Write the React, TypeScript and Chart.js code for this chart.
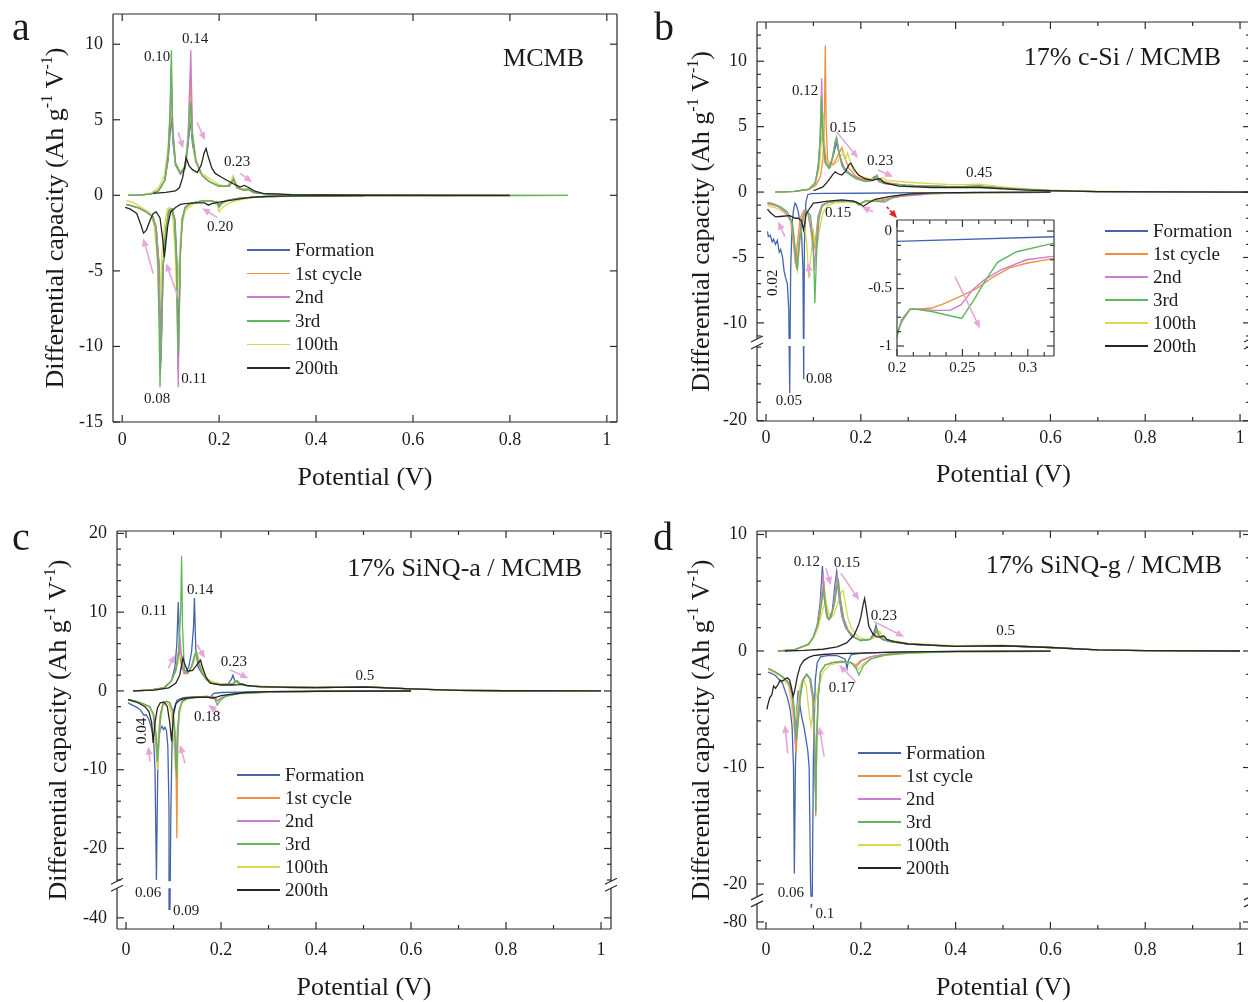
import React, { useEffect, useRef } from 'react';
import { Chart, registerables } from 'chart.js';

Chart.register(...registerables);

const SERIF = "'Liberation Serif', 'Times New Roman', Times, serif";
const TEXT = '#1b1b1b';
const AXIS = '#2b2b2b';
const ARROW = '#e7a6d5';

type Pt = [number, number] | null;
type Brk = { B: number; k: number } | null;

// ---------------- series meta ----------------
const SERIES_NAMES = ['Formation', '1st cycle', '2nd', '3rd', '100th', '200th'];
const SERIES_COLORS = ['#4664ae', '#f0903e', '#c97fcb', '#5cb85a', '#dcd64c', '#262626'];
const SERIES_ORDER = [5, 4, 2, 1, 3, 0];

const X_MIN = -0.019;
const X_MAX = 1.021;
const X_TICKS = [0, 0.2, 0.4, 0.6, 0.8, 1];
const X_MINOR = [0.1, 0.3, 0.5, 0.7, 0.9];

// ---------------- panel a : MCMB ----------------
const A_FORMATION: Pt[] = [
  [0.8, -0.01], [0.5, -0.02], [0.35, -0.05], [0.28, -0.1], [0.24, -0.2], [0.215, -0.35], [0.205, -0.5], [0.2, -0.62], [0.195, -0.45], [0.18, -0.35], [0.16, -0.4], [0.14, -0.55], [0.13, -0.8], [0.124, -1.5], [0.12, -3.5], [0.116, -10], [0.113, -4.5], [0.109, -1.6], [0.103, -0.9], [0.097, -1.0], [0.091, -2.2], [0.085, -4.5], [0.08, -11], [0.076, -4.5], [0.07, -2.1], [0.063, -1.4], [0.05, -1.1], [0.035, -0.85], [0.02, -0.7], [0.008, -0.6],
  null,
  [0.012, 0], [0.04, 0.03], [0.06, 0.1], [0.075, 0.3], [0.088, 1.0], [0.095, 2.4], [0.099, 4.2], [0.102, 5.2], [0.105, 3.4], [0.11, 2.0], [0.12, 1.4], [0.13, 1.8], [0.136, 3.4], [0.141, 5.0], [0.145, 3.4], [0.152, 2.2], [0.165, 1.3], [0.18, 0.9], [0.2, 0.6], [0.22, 0.6], [0.23, 1.0], [0.237, 0.5], [0.25, 0.35], [0.26, 0.4], [0.27, 0.2], [0.3, 0.08], [0.35, 0.03], [0.5, 0.01], [0.8, 0],
];
const A_1ST: Pt[] = [
  [0.8, -0.01], [0.5, -0.02], [0.35, -0.05], [0.28, -0.1], [0.24, -0.2], [0.215, -0.35], [0.205, -0.55], [0.2, -0.7], [0.195, -0.45], [0.18, -0.35], [0.16, -0.4], [0.14, -0.55], [0.13, -0.8], [0.124, -1.5], [0.12, -3.8], [0.1155, -11.5], [0.112, -4.5], [0.108, -1.6], [0.102, -0.9], [0.096, -1.0], [0.09, -2.2], [0.084, -4.8], [0.0795, -11], [0.0755, -4.5], [0.07, -2.1], [0.063, -1.4], [0.05, -1.1], [0.035, -0.85], [0.02, -0.7], [0.008, -0.6],
  null,
  [0.012, 0], [0.04, 0.03], [0.06, 0.1], [0.075, 0.3], [0.088, 1.0], [0.095, 2.6], [0.099, 5], [0.1015, 7.5], [0.105, 4], [0.11, 2.1], [0.12, 1.5], [0.13, 1.9], [0.136, 3.8], [0.141, 7.8], [0.145, 4], [0.152, 2.3], [0.165, 1.3], [0.18, 0.9], [0.2, 0.6], [0.22, 0.6], [0.23, 1.0], [0.237, 0.5], [0.25, 0.35], [0.26, 0.4], [0.27, 0.2], [0.3, 0.08], [0.35, 0.03], [0.5, 0.01], [0.8, 0],
];
const A_2ND: Pt[] = [
  [0.8, -0.01], [0.5, -0.02], [0.35, -0.05], [0.28, -0.1], [0.24, -0.2], [0.215, -0.35], [0.205, -0.55], [0.2, -0.75], [0.195, -0.45], [0.18, -0.35], [0.16, -0.4], [0.14, -0.55], [0.13, -0.8], [0.124, -1.6], [0.12, -4], [0.1155, -12.7], [0.112, -4.5], [0.108, -1.6], [0.102, -0.9], [0.096, -1.0], [0.09, -2.3], [0.084, -5], [0.0795, -11.5], [0.0755, -4.5], [0.07, -2.1], [0.063, -1.4], [0.05, -1.1], [0.035, -0.85], [0.02, -0.7], [0.008, -0.6],
  null,
  [0.012, 0], [0.04, 0.03], [0.06, 0.1], [0.075, 0.3], [0.088, 1.0], [0.095, 2.7], [0.099, 5.5], [0.101, 8.5], [0.104, 4.2], [0.11, 2.1], [0.12, 1.5], [0.13, 1.9], [0.136, 4], [0.1415, 9.6], [0.145, 4.2], [0.152, 2.3], [0.165, 1.3], [0.18, 0.9], [0.2, 0.6], [0.22, 0.6], [0.23, 1.1], [0.237, 0.5], [0.25, 0.35], [0.26, 0.4], [0.27, 0.2], [0.3, 0.08], [0.35, 0.03], [0.5, 0.01], [0.8, 0],
];
const A_3RD: Pt[] = [
  [0.92, 0], [0.8, -0.01], [0.5, -0.02], [0.35, -0.05], [0.28, -0.1], [0.24, -0.2], [0.215, -0.35], [0.205, -0.55], [0.2, -0.8], [0.195, -0.45], [0.18, -0.35], [0.16, -0.4], [0.14, -0.55], [0.13, -0.8], [0.124, -1.6], [0.12, -3.8], [0.1155, -10.5], [0.112, -4.5], [0.108, -1.6], [0.102, -0.9], [0.096, -1.0], [0.09, -2.3], [0.083, -5.2], [0.078, -12.7], [0.074, -4.8], [0.069, -2.1], [0.062, -1.4], [0.05, -1.1], [0.035, -0.85], [0.02, -0.7], [0.008, -0.6],
  null,
  [0.012, 0], [0.04, 0.03], [0.06, 0.1], [0.075, 0.3], [0.088, 1.0], [0.095, 2.8], [0.099, 6], [0.1015, 9.6], [0.104, 4.5], [0.11, 2.1], [0.12, 1.5], [0.13, 1.9], [0.136, 3.5], [0.1415, 6.2], [0.145, 3.8], [0.152, 2.3], [0.165, 1.3], [0.18, 0.9], [0.2, 0.6], [0.22, 0.6], [0.23, 1.1], [0.237, 0.5], [0.25, 0.35], [0.26, 0.4], [0.27, 0.2], [0.3, 0.08], [0.35, 0.03], [0.5, 0.01], [0.92, 0],
];
const A_100TH: Pt[] = [
  [0.92, 0], [0.8, -0.01], [0.5, -0.03], [0.35, -0.06], [0.28, -0.12], [0.25, -0.25], [0.23, -0.4], [0.215, -0.6], [0.205, -0.85], [0.2, -1.1], [0.196, -0.6], [0.185, -0.4], [0.165, -0.4], [0.145, -0.6], [0.13, -1.0], [0.122, -2.2], [0.117, -4.5], [0.113, -7.5], [0.109, -3.5], [0.104, -1.4], [0.098, -0.8], [0.093, -0.9], [0.088, -1.8], [0.082, -3.8], [0.076, -8], [0.072, -4], [0.066, -2], [0.058, -1.2], [0.045, -0.9], [0.03, -0.6], [0.016, -0.4], [0.008, -0.35],
  null,
  [0.016, 0], [0.04, 0.05], [0.06, 0.15], [0.075, 0.5], [0.087, 1.3], [0.094, 3], [0.099, 5.2], [0.1015, 6], [0.105, 4], [0.11, 2.2], [0.118, 1.5], [0.128, 1.8], [0.134, 3.2], [0.14, 5.5], [0.144, 4.2], [0.15, 2.4], [0.16, 1.5], [0.172, 1.3], [0.18, 1.1], [0.2, 0.7], [0.215, 0.6], [0.224, 0.9], [0.229, 1.3], [0.234, 0.8], [0.245, 0.45], [0.26, 0.45], [0.275, 0.2], [0.3, 0.08], [0.4, 0.02], [0.6, 0.01], [0.92, 0],
];
const A_200TH: Pt[] = [
  [0.5, -0.01], [0.35, -0.03], [0.3, -0.06], [0.26, -0.15], [0.23, -0.3], [0.2, -0.45], [0.185, -0.55], [0.178, -0.65], [0.17, -0.5], [0.15, -0.5], [0.13, -0.55], [0.12, -0.6], [0.11, -0.8], [0.1, -1.1], [0.094, -2], [0.089, -3.5], [0.087, -4.1], [0.084, -3], [0.078, -1.5], [0.07, -1.1], [0.064, -1.2], [0.058, -1.6], [0.05, -2.3], [0.044, -2.5], [0.039, -2], [0.03, -1.2], [0.016, -0.9], [0.006, -0.8],
  null,
  [0.064, 0.13], [0.09, 0.2], [0.11, 0.3], [0.118, 0.5], [0.125, 1.2], [0.132, 2.5], [0.138, 1.95], [0.145, 1.7], [0.155, 1.5], [0.163, 2.0], [0.169, 2.8], [0.173, 3.1], [0.178, 2.5], [0.185, 1.8], [0.192, 1.45], [0.205, 1.2], [0.216, 1.0], [0.23, 0.75], [0.243, 0.55], [0.252, 0.66], [0.262, 0.5], [0.272, 0.3], [0.29, 0.13], [0.35, 0.05], [0.5, 0.01], [0.8, 0],
];

// ---------------- panel b : 17% c-Si / MCMB ----------------
const B_FORMATION: Pt[] = [
  [0.6, -0.02], [0.4, -0.04], [0.32, -0.05], [0.2, -0.09], [0.12, -0.1], [0.095, -0.12], [0.088, -0.2], [0.084, -0.8], [0.081, -4], [0.0795, -15.5], [0.078, -6], [0.075, -3.2], [0.072, -2.4], [0.068, -1.5], [0.064, -1.0], [0.061, -0.85], [0.058, -1.4], [0.055, -2.4], [0.052, -6], [0.05, -17], [0.048, -9], [0.045, -7], [0.041, -6.5], [0.038, -6.0], [0.035, -5.0], [0.031, -4.4], [0.028, -4.6], [0.024, -3.7], [0.02, -4.0], [0.016, -3.6], [0.013, -3.8], [0.009, -3.3], [0.005, -3.4], [0.003, -3.0],
  null,
  [0.02, 0], [0.06, 0.05], [0.09, 0.2], [0.105, 0.8], [0.112, 2.5], [0.116, 5], [0.118, 7], [0.121, 4], [0.127, 2.2], [0.135, 1.9], [0.142, 2.8], [0.149, 3.8], [0.155, 2.8], [0.165, 1.8], [0.18, 1.3], [0.2, 1.0], [0.22, 0.9], [0.23, 1.2], [0.236, 0.9], [0.25, 0.7], [0.3, 0.5], [0.4, 0.4], [0.45, 0.45], [0.5, 0.3], [0.6, 0.1], [0.7, 0.03], [0.9, 0.01], [1.02, 0],
];
const B_1ST: Pt[] = [
  [0.6, -0.02], [0.45, -0.05], [0.4, -0.08], [0.35, -0.14], [0.319, -0.24], [0.299, -0.28], [0.286, -0.32], [0.2735, -0.4], [0.261, -0.5], [0.248, -0.57], [0.235, -0.635], [0.2265, -0.67], [0.215, -0.68], [0.21, -0.68], [0.2035, -0.79], [0.2, -0.89], [0.196, -0.95], [0.19, -0.75], [0.175, -0.65], [0.15, -0.7], [0.13, -0.8], [0.118, -1.0], [0.11, -1.8], [0.105, -3.5], [0.1, -4.5], [0.095, -3], [0.088, -1.6], [0.08, -1.4], [0.072, -2], [0.066, -4], [0.062, -5.5], [0.058, -4], [0.052, -2.2], [0.04, -1.5], [0.025, -1.1], [0.01, -0.95], [0.003, -0.9],
  null,
  [0.02, 0], [0.06, 0.05], [0.09, 0.2], [0.105, 0.5], [0.115, 1.2], [0.12, 2.5], [0.123, 5], [0.125, 11.2], [0.127, 5], [0.13, 2.5], [0.135, 2.0], [0.145, 2.3], [0.153, 2.9], [0.16, 3.4], [0.166, 2.6], [0.175, 1.8], [0.19, 1.2], [0.21, 0.9], [0.226, 0.95], [0.236, 1.1], [0.245, 0.85], [0.26, 0.7], [0.3, 0.5], [0.4, 0.4], [0.45, 0.45], [0.5, 0.3], [0.6, 0.1], [0.7, 0.03], [0.9, 0.01], [1.02, 0],
];
const B_2ND: Pt[] = [
  [0.6, -0.02], [0.45, -0.05], [0.4, -0.07], [0.35, -0.12], [0.319, -0.22], [0.299, -0.25], [0.279, -0.34], [0.266, -0.43], [0.258, -0.51], [0.249, -0.64], [0.2405, -0.69], [0.23, -0.69], [0.215, -0.68], [0.21, -0.68], [0.2035, -0.79], [0.2, -0.89], [0.196, -0.95], [0.19, -0.75], [0.175, -0.65], [0.15, -0.7], [0.13, -0.8], [0.118, -1.0], [0.11, -1.9], [0.106, -4], [0.102, -6], [0.098, -3.5], [0.09, -1.7], [0.082, -1.4], [0.074, -2.2], [0.068, -4.5], [0.064, -5.8], [0.06, -4], [0.054, -2.3], [0.04, -1.5], [0.025, -1.1], [0.01, -0.9], [0.003, -0.85],
  null,
  [0.02, 0], [0.06, 0.05], [0.09, 0.2], [0.103, 0.6], [0.11, 1.8], [0.114, 4], [0.1175, 8.7], [0.12, 4.5], [0.125, 2.3], [0.133, 1.9], [0.14, 2.6], [0.146, 3.8], [0.149, 4.0], [0.153, 3.2], [0.16, 2.2], [0.17, 1.6], [0.19, 1.1], [0.21, 0.8], [0.226, 0.9], [0.232, 1.2], [0.238, 0.8], [0.25, 0.65], [0.3, 0.5], [0.4, 0.4], [0.45, 0.45], [0.5, 0.3], [0.6, 0.1], [0.7, 0.03], [0.9, 0.01], [1.02, 0],
];
const B_3RD: Pt[] = [
  [0.6, -0.02], [0.45, -0.04], [0.4, -0.06], [0.35, -0.08], [0.319, -0.107], [0.2915, -0.18], [0.277, -0.27], [0.267, -0.44], [0.2595, -0.585], [0.2495, -0.76], [0.238, -0.73], [0.2265, -0.7], [0.215, -0.68], [0.21, -0.68], [0.2035, -0.77], [0.2, -0.92], [0.196, -1.0], [0.19, -0.8], [0.175, -0.7], [0.15, -0.7], [0.13, -0.8], [0.118, -1.1], [0.112, -2], [0.107, -4.5], [0.103, -8.5], [0.1, -4], [0.094, -1.8], [0.085, -1.4], [0.076, -2.2], [0.07, -4], [0.066, -6], [0.062, -4.5], [0.056, -2.4], [0.045, -1.5], [0.03, -1.1], [0.012, -0.85], [0.003, -0.8],
  null,
  [0.02, 0], [0.06, 0.05], [0.09, 0.2], [0.103, 0.6], [0.11, 1.8], [0.114, 4], [0.117, 7.3], [0.12, 4], [0.125, 2.2], [0.133, 1.8], [0.14, 2.6], [0.146, 3.9], [0.149, 4.2], [0.153, 3.3], [0.16, 2.0], [0.17, 1.5], [0.19, 1.0], [0.21, 0.8], [0.226, 0.9], [0.234, 1.3], [0.24, 0.8], [0.25, 0.65], [0.3, 0.5], [0.4, 0.4], [0.45, 0.45], [0.5, 0.3], [0.6, 0.1], [0.7, 0.03], [0.9, 0.01], [1.02, 0],
];
const B_100TH: Pt[] = [
  [0.6, -0.02], [0.4, -0.05], [0.3, -0.15], [0.26, -0.35], [0.235, -0.55], [0.22, -0.65], [0.205, -0.8], [0.2, -0.95], [0.19, -0.8], [0.17, -0.75], [0.15, -0.8], [0.13, -1.0], [0.12, -1.6], [0.112, -3], [0.106, -4.5], [0.1, -3], [0.095, -4.8], [0.09, -6.6], [0.086, -4], [0.08, -2], [0.075, -2.5], [0.07, -4.5], [0.066, -6], [0.062, -5], [0.058, -3], [0.05, -1.9], [0.035, -1.5], [0.02, -1.2], [0.008, -1.1], [0.003, -1.0],
  null,
  [0.02, 0], [0.06, 0.06], [0.09, 0.25], [0.105, 0.8], [0.113, 2], [0.118, 4.5], [0.121, 6], [0.124, 3.5], [0.13, 2.0], [0.14, 2.0], [0.15, 2.3], [0.158, 2.8], [0.164, 3.0], [0.168, 2.5], [0.172, 3.0], [0.177, 2.4], [0.185, 1.6], [0.2, 1.2], [0.22, 1.0], [0.235, 1.0], [0.245, 1.1], [0.255, 0.9], [0.3, 0.75], [0.35, 0.65], [0.4, 0.55], [0.45, 0.6], [0.5, 0.4], [0.55, 0.25], [0.6, 0.15], [0.7, 0.05], [0.9, 0.01], [1.02, 0],
];
const B_200TH: Pt[] = [
  [0.6, -0.01], [0.45, -0.02], [0.35, -0.06], [0.3, -0.15], [0.26, -0.35], [0.23, -0.55], [0.215, -0.85], [0.205, -1.1], [0.198, -0.9], [0.185, -0.7], [0.16, -0.6], [0.13, -0.7], [0.11, -0.8], [0.1, -0.85], [0.093, -1.2], [0.085, -1.65], [0.079, -2.9], [0.075, -2.2], [0.068, -2.0], [0.062, -2.0], [0.05, -1.8], [0.035, -1.85], [0.02, -1.9], [0.01, -1.6], [0.003, -1.3],
  null,
  [0.1, 0.1], [0.12, 0.4], [0.13, 0.8], [0.14, 1.3], [0.146, 1.55], [0.152, 1.4], [0.16, 1.3], [0.168, 1.6], [0.175, 2.1], [0.179, 2.2], [0.185, 1.8], [0.195, 1.3], [0.21, 1.0], [0.225, 0.9], [0.235, 1.0], [0.241, 1.0], [0.25, 0.7], [0.28, 0.45], [0.35, 0.35], [0.45, 0.35], [0.55, 0.15], [0.7, 0.04], [1.02, 0],
];

// ---------------- panel c : 17% SiNQ-a / MCMB ----------------
const C_FORMATION: Pt[] = [
  [0.6, -0.02], [0.4, -0.05], [0.3, -0.1], [0.24, -0.15], [0.2, -0.2], [0.185, -0.3], [0.18, -0.6], [0.177, -0.9], [0.172, -0.8], [0.16, -0.75], [0.14, -0.75], [0.12, -0.85], [0.107, -1.2], [0.1, -2.5], [0.097, -6], [0.0945, -15], [0.0925, -36], [0.0905, -15], [0.088, -7], [0.085, -5], [0.082, -4.6], [0.079, -4.9], [0.076, -4.5], [0.073, -4.8], [0.07, -5.5], [0.067, -9], [0.064, -24], [0.061, -10], [0.058, -6], [0.054, -4.8], [0.048, -3.6], [0.042, -3.0], [0.038, -3.1], [0.03, -2.4], [0.02, -2], [0.01, -1.7], [0.004, -1.5],
  null,
  [0.015, 0], [0.05, 0.1], [0.08, 0.4], [0.095, 1.2], [0.103, 3], [0.107, 6], [0.11, 11.3], [0.113, 5], [0.118, 2.8], [0.125, 2.5], [0.132, 3], [0.138, 5], [0.142, 8], [0.144, 11.8], [0.147, 5], [0.152, 3], [0.16, 2.2], [0.17, 1.4], [0.18, 1.0], [0.2, 0.8], [0.215, 0.9], [0.222, 1.5], [0.225, 2.0], [0.229, 1.3], [0.24, 0.8], [0.26, 0.6], [0.3, 0.5], [0.4, 0.4], [0.5, 0.55], [0.6, 0.25], [0.7, 0.08], [0.8, 0.02], [1.0, 0],
];
const C_1ST: Pt[] = [
  [0.6, -0.02], [0.4, -0.06], [0.3, -0.15], [0.24, -0.3], [0.21, -0.6], [0.2, -0.9], [0.192, -1.2], [0.187, -0.8], [0.17, -0.7], [0.15, -0.75], [0.13, -0.9], [0.118, -1.3], [0.112, -2.5], [0.109, -6], [0.107, -18.7], [0.105, -8], [0.1, -3], [0.092, -1.5], [0.085, -1.3], [0.078, -1.6], [0.072, -3], [0.068, -6], [0.065, -9], [0.062, -6], [0.057, -3], [0.05, -2], [0.035, -1.6], [0.02, -1.3], [0.005, -1.1],
  null,
  [0.015, 0], [0.05, 0.1], [0.08, 0.4], [0.095, 1.2], [0.104, 2.5], [0.109, 4], [0.113, 5.5], [0.117, 3.5], [0.122, 2.2], [0.13, 2.2], [0.138, 3], [0.144, 4.2], [0.148, 4.6], [0.153, 3.5], [0.16, 2.3], [0.17, 1.4], [0.18, 1.0], [0.2, 0.8], [0.225, 0.9], [0.233, 1.3], [0.24, 0.9], [0.26, 0.6], [0.3, 0.5], [0.4, 0.4], [0.5, 0.55], [0.6, 0.25], [0.7, 0.08], [0.8, 0.02], [1.0, 0],
];
const C_2ND: Pt[] = [
  [0.6, -0.02], [0.4, -0.06], [0.3, -0.15], [0.24, -0.3], [0.21, -0.6], [0.2, -0.9], [0.192, -1.3], [0.187, -0.8], [0.17, -0.7], [0.15, -0.75], [0.13, -0.9], [0.118, -1.3], [0.112, -2.5], [0.108, -5], [0.105, -10], [0.102, -5], [0.098, -2.5], [0.092, -1.5], [0.085, -1.3], [0.078, -1.6], [0.073, -3], [0.069, -6], [0.066, -8.5], [0.063, -5.5], [0.058, -3], [0.05, -2], [0.035, -1.6], [0.02, -1.3], [0.005, -1.1],
  null,
  [0.015, 0], [0.05, 0.1], [0.08, 0.4], [0.095, 1.2], [0.104, 2.6], [0.109, 4.5], [0.114, 6.5], [0.118, 3.6], [0.123, 2.3], [0.13, 2.3], [0.138, 3.1], [0.144, 4.4], [0.147, 5], [0.152, 3.6], [0.16, 2.3], [0.17, 1.4], [0.18, 1.0], [0.2, 0.8], [0.225, 0.9], [0.233, 1.3], [0.24, 0.9], [0.26, 0.6], [0.3, 0.5], [0.4, 0.4], [0.5, 0.55], [0.6, 0.25], [0.7, 0.08], [0.8, 0.02], [1.0, 0],
];
const C_3RD: Pt[] = [
  [0.6, -0.02], [0.4, -0.06], [0.3, -0.15], [0.24, -0.3], [0.21, -0.7], [0.2, -1.1], [0.192, -1.8], [0.187, -1.0], [0.17, -0.7], [0.15, -0.75], [0.13, -0.9], [0.118, -1.3], [0.112, -2.6], [0.109, -5.5], [0.106, -11], [0.103, -5], [0.098, -2.5], [0.092, -1.5], [0.085, -1.3], [0.078, -1.6], [0.073, -3], [0.069, -6.2], [0.066, -9], [0.063, -5.5], [0.058, -3], [0.05, -2], [0.035, -1.6], [0.02, -1.3], [0.005, -1.1],
  null,
  [0.015, 0], [0.05, 0.1], [0.08, 0.4], [0.095, 1.2], [0.105, 2.6], [0.111, 5], [0.115, 10], [0.117, 17.1], [0.119, 8], [0.123, 2.6], [0.13, 2.3], [0.138, 3.1], [0.144, 4.4], [0.148, 5], [0.153, 3.6], [0.16, 2.3], [0.17, 1.4], [0.18, 1.0], [0.2, 0.8], [0.225, 0.9], [0.234, 1.3], [0.24, 0.9], [0.26, 0.6], [0.3, 0.5], [0.4, 0.4], [0.5, 0.55], [0.6, 0.25], [0.7, 0.08], [0.8, 0.02], [1.0, 0],
];
const C_100TH: Pt[] = [
  [0.6, -0.02], [0.4, -0.07], [0.3, -0.18], [0.24, -0.35], [0.21, -0.6], [0.2, -0.9], [0.193, -1.3], [0.187, -0.9], [0.17, -0.8], [0.15, -0.85], [0.13, -1.0], [0.118, -1.5], [0.112, -3], [0.108, -6], [0.104, -10], [0.1, -6], [0.096, -3], [0.09, -1.7], [0.084, -1.5], [0.078, -1.8], [0.073, -3.5], [0.069, -7], [0.066, -10], [0.063, -6], [0.058, -3.2], [0.05, -2.1], [0.035, -1.7], [0.02, -1.4], [0.005, -1.2],
  null,
  [0.015, 0], [0.05, 0.1], [0.08, 0.45], [0.095, 1.3], [0.105, 2.6], [0.111, 4], [0.115, 4.5], [0.119, 3.4], [0.125, 2.3], [0.132, 2.4], [0.14, 3.2], [0.146, 4.3], [0.15, 4.8], [0.155, 3.7], [0.162, 2.4], [0.172, 1.5], [0.185, 1.1], [0.2, 0.9], [0.225, 0.9], [0.236, 1.2], [0.243, 0.9], [0.26, 0.65], [0.3, 0.55], [0.4, 0.45], [0.5, 0.55], [0.6, 0.25], [0.7, 0.08], [0.8, 0.02], [1.0, 0],
];
const C_200TH: Pt[] = [
  [0.6, -0.01], [0.4, -0.04], [0.3, -0.1], [0.25, -0.2], [0.2, -0.6], [0.185, -0.9], [0.17, -0.8], [0.15, -0.8], [0.13, -0.9], [0.115, -1.1], [0.105, -1.6], [0.1, -3], [0.096, -6.4], [0.092, -4], [0.087, -2], [0.08, -1.4], [0.072, -1.5], [0.066, -2.2], [0.061, -4], [0.057, -6.6], [0.054, -4], [0.048, -2.6], [0.04, -2.0], [0.025, -1.5], [0.01, -1.2], [0.004, -1.1],
  null,
  [0.015, 0], [0.06, 0.1], [0.09, 0.4], [0.105, 1], [0.113, 2], [0.118, 3.6], [0.12, 4.2], [0.123, 3.5], [0.13, 2.5], [0.14, 2.6], [0.148, 3.2], [0.154, 3.7], [0.157, 3.9], [0.16, 3.2], [0.168, 1.8], [0.177, 1.0], [0.2, 0.75], [0.225, 0.75], [0.238, 0.8], [0.245, 0.9], [0.252, 0.7], [0.28, 0.55], [0.35, 0.45], [0.45, 0.45], [0.5, 0.5], [0.6, 0.25], [0.7, 0.08], [0.8, 0.02], [1.0, 0],
];

// ---------------- panel d : 17% SiNQ-g / MCMB ----------------
const D_FORMATION: Pt[] = [
  [0.6, -0.02], [0.4, -0.04], [0.3, -0.08], [0.25, -0.12], [0.2, -0.2], [0.18, -0.3], [0.174, -0.8], [0.171, -1.5], [0.167, -0.7], [0.15, -0.4], [0.13, -0.4], [0.115, -0.5], [0.108, -1.0], [0.104, -2.5], [0.1, -9], [0.0975, -22], [0.0955, -42], [0.094, -20], [0.091, -10], [0.088, -8.5], [0.084, -7.5], [0.08, -6.5], [0.076, -5.8], [0.072, -4.8], [0.068, -3.4], [0.065, -5], [0.062, -10], [0.0598, -19.1], [0.058, -10], [0.055, -6.5], [0.051, -5], [0.045, -4], [0.035, -2.8], [0.02, -2.1], [0.01, -1.9], [0.004, -1.8],
  null,
  [0.025, 0], [0.06, 0.1], [0.09, 0.6], [0.1, 1.2], [0.108, 2.2], [0.114, 4], [0.119, 7.3], [0.123, 4.5], [0.128, 3], [0.133, 2.7], [0.14, 3.5], [0.145, 5.5], [0.149, 6.8], [0.153, 5], [0.16, 3], [0.168, 2.0], [0.18, 1.3], [0.2, 0.9], [0.22, 1.0], [0.228, 1.6], [0.232, 2.2], [0.236, 1.4], [0.245, 1.0], [0.26, 0.8], [0.3, 0.6], [0.4, 0.4], [0.5, 0.45], [0.6, 0.3], [0.7, 0.1], [0.8, 0.03], [1.0, 0],
];
const D_1ST: Pt[] = [
  [0.6, -0.02], [0.4, -0.06], [0.3, -0.15], [0.25, -0.3], [0.22, -0.5], [0.2, -0.8], [0.19, -1.2], [0.18, -1.0], [0.16, -0.9], [0.14, -1.0], [0.125, -1.2], [0.115, -1.8], [0.11, -4], [0.107, -8], [0.105, -14.2], [0.103, -8], [0.1, -4], [0.094, -2.4], [0.086, -2], [0.078, -2.5], [0.072, -4], [0.067, -6.5], [0.063, -8.8], [0.06, -6], [0.055, -3.8], [0.048, -2.8], [0.035, -2.2], [0.02, -1.8], [0.005, -1.5],
  null,
  [0.025, 0], [0.06, 0.1], [0.09, 0.6], [0.1, 1.2], [0.11, 2.2], [0.117, 4], [0.122, 6.0], [0.126, 4], [0.131, 2.8], [0.137, 2.9], [0.144, 4], [0.149, 5.5], [0.152, 6.0], [0.156, 4.5], [0.163, 2.8], [0.172, 1.8], [0.185, 1.2], [0.2, 0.9], [0.22, 1.0], [0.23, 1.4], [0.235, 1.8], [0.24, 1.2], [0.25, 0.95], [0.27, 0.8], [0.3, 0.6], [0.4, 0.4], [0.5, 0.45], [0.6, 0.3], [0.7, 0.1], [0.8, 0.03], [1.0, 0],
];
const D_2ND: Pt[] = [
  [0.6, -0.02], [0.4, -0.06], [0.3, -0.15], [0.25, -0.3], [0.22, -0.5], [0.2, -0.9], [0.19, -1.4], [0.18, -1.0], [0.16, -0.9], [0.14, -1.0], [0.125, -1.2], [0.115, -1.8], [0.11, -4], [0.107, -7], [0.104, -12], [0.101, -7], [0.098, -4], [0.092, -2.4], [0.085, -2], [0.077, -2.5], [0.071, -4], [0.066, -6], [0.062, -8], [0.059, -5.5], [0.054, -3.6], [0.047, -2.7], [0.035, -2.2], [0.02, -1.8], [0.005, -1.5],
  null,
  [0.025, 0], [0.06, 0.1], [0.09, 0.6], [0.1, 1.2], [0.108, 2.2], [0.115, 4], [0.12, 6.7], [0.124, 4.5], [0.129, 2.9], [0.135, 2.8], [0.142, 3.8], [0.147, 5.6], [0.15, 6.5], [0.154, 4.8], [0.161, 2.9], [0.17, 1.9], [0.183, 1.25], [0.2, 0.9], [0.22, 1.0], [0.228, 1.4], [0.233, 1.9], [0.238, 1.3], [0.248, 0.95], [0.27, 0.8], [0.3, 0.6], [0.4, 0.4], [0.5, 0.45], [0.6, 0.3], [0.7, 0.1], [0.8, 0.03], [1.0, 0],
];
const D_3RD: Pt[] = [
  [0.6, -0.02], [0.4, -0.06], [0.3, -0.15], [0.25, -0.35], [0.22, -0.7], [0.205, -1.3], [0.196, -2.06], [0.19, -1.5], [0.18, -1.0], [0.16, -0.9], [0.14, -1.0], [0.125, -1.2], [0.115, -1.8], [0.11, -4], [0.107, -8], [0.105, -13.9], [0.103, -8], [0.1, -4], [0.094, -2.4], [0.086, -2], [0.078, -2.5], [0.072, -4], [0.068, -6], [0.064, -7.7], [0.061, -5.5], [0.056, -3.6], [0.048, -2.7], [0.035, -2.2], [0.02, -1.8], [0.005, -1.5],
  null,
  [0.025, 0], [0.06, 0.1], [0.09, 0.6], [0.1, 1.2], [0.109, 2.2], [0.116, 3.8], [0.121, 5.4], [0.125, 4], [0.13, 2.8], [0.137, 2.9], [0.144, 4], [0.149, 5.3], [0.153, 6.0], [0.157, 4.5], [0.164, 2.8], [0.173, 1.8], [0.185, 1.2], [0.2, 0.9], [0.22, 1.0], [0.229, 1.4], [0.234, 1.9], [0.239, 1.3], [0.25, 0.95], [0.27, 0.8], [0.3, 0.6], [0.4, 0.4], [0.5, 0.45], [0.6, 0.3], [0.7, 0.1], [0.8, 0.03], [1.0, 0],
];
const D_100TH: Pt[] = [
  [0.6, -0.03], [0.4, -0.08], [0.3, -0.2], [0.25, -0.4], [0.22, -0.7], [0.205, -1.1], [0.195, -1.6], [0.188, -1.2], [0.175, -1.0], [0.155, -1.0], [0.135, -1.2], [0.12, -1.8], [0.11, -3.2], [0.1, -5], [0.095, -6.5], [0.09, -5], [0.085, -3], [0.078, -2.4], [0.072, -3], [0.066, -5], [0.06, -7], [0.055, -5], [0.048, -3], [0.035, -2.3], [0.02, -1.9], [0.005, -1.6],
  null,
  [0.025, 0], [0.06, 0.1], [0.09, 0.5], [0.1, 1.1], [0.11, 2.0], [0.118, 3.3], [0.126, 4.4], [0.13, 3.6], [0.136, 2.8], [0.144, 3.2], [0.152, 4.2], [0.158, 5.0], [0.163, 5.2], [0.167, 4.2], [0.173, 2.8], [0.182, 1.8], [0.195, 1.2], [0.21, 1.0], [0.228, 1.1], [0.235, 1.4], [0.24, 1.7], [0.245, 1.2], [0.255, 0.95], [0.28, 0.8], [0.3, 0.65], [0.4, 0.45], [0.5, 0.5], [0.6, 0.3], [0.7, 0.1], [0.8, 0.03], [1.0, 0],
];
const D_200TH: Pt[] = [
  [0.6, -0.01], [0.4, -0.03], [0.3, -0.08], [0.25, -0.12], [0.2, -0.18], [0.15, -0.22], [0.12, -0.3], [0.1, -0.4], [0.09, -0.55], [0.08, -0.8], [0.072, -1.3], [0.066, -2.2], [0.06, -3.5], [0.057, -3.9], [0.054, -3.2], [0.05, -2.5], [0.045, -2.3], [0.04, -2.4], [0.035, -2.6], [0.03, -2.5], [0.025, -2.9], [0.02, -3.2], [0.016, -3.0], [0.012, -3.8], [0.008, -4.0], [0.004, -4.6], [0.002, -5.0],
  null,
  [0.04, 0], [0.08, 0.05], [0.12, 0.15], [0.15, 0.35], [0.17, 0.7], [0.186, 1.37], [0.195, 2.2], [0.2, 2.9], [0.205, 4.0], [0.208, 4.5], [0.212, 3.5], [0.217, 2.1], [0.225, 1.5], [0.232, 1.23], [0.24, 1.2], [0.248, 1.3], [0.255, 1.0], [0.27, 0.8], [0.3, 0.6], [0.4, 0.4], [0.5, 0.45], [0.6, 0.3], [0.7, 0.1], [0.8, 0.03], [1.0, 0],
];

// ---------------- tick labels ----------------
const A_Y_TICKS = [10, 5, 0, -5, -10, -15];
const B_Y_TICKS = [10, 5, 0, -5, -10, -20];
const C_Y_TICKS = [20, 10, 0, -10, -20, -40];
const D_Y_TICKS = [10, 0, -10, -20, -80];
const B_Y_MINOR = [12, 11, 9, 8, 7, 6, 4, 3, 2, 1, -1, -2, -3, -4, -6, -7, -8, -9, -11, -12, -14, -16, -18];
const C_Y_MINOR = [18, 16, 14, 12, 8, 6, 4, 2, -2, -4, -6, -8, -12, -14, -16, -18, -22, -24];
const D_Y_MINOR = [8, 6, 4, 2, -2, -4, -6, -8, -12, -14, -16, -18];

const INSET_X_TICKS = [0.2, 0.25, 0.3];
const INSET_X_MINOR = [0.2125, 0.225, 0.2375, 0.2625, 0.275, 0.2875, 0.3125];
const INSET_Y_TICKS = [0, -0.5, -1];
const INSET_Y_MINOR = [-0.125, -0.25, -0.375, -0.625, -0.75, -0.875];

// ---------------- annotations (text, potential, value, rotated) ----------------
const A_LABELS: [string, number, number, number][] = [
  ['0.10', 0.072, 9.14, 0], ['0.14', 0.1505, 10.33, 0], ['0.23', 0.237, 2.19, 0], ['0.20', 0.202, -2.12, 0], ['0.08', 0.072, -13.5, 0], ['0.11', 0.1485, -12.19, 0],
];
const A_ARROWS: [number, number, number, number][] = [
  [0.1155, 4.17, 0.1258, 3.11], [0.1546, 4.83, 0.171, 3.64], [0.2433, 1.46, 0.268, 0.86],
  [0.0639, -5.17, 0.0433, -2.85], [0.1155, -6.75, 0.0907, -4.5], [0.1959, -1.46, 0.165, -0.86],
];
const B_LABELS: [string, number, number, number][] = [
  ['0.12', 0.0823, 7.71, 0], ['0.15', 0.1624, 4.89, 0], ['0.23', 0.2405, 2.37, 0], ['0.45', 0.4494, 1.45, 0], ['0.15', 0.1519, -1.6, 0], ['0.02', 0.0148, -6.95, 1], ['0.05', 0.0485, -17.83, 0], ['0.08', 0.1118, -15.44, 0],
];
const B_ARROWS: [number, number, number, number][] = [
  [0.1492, 4.6, 0.1941, 2.6], [0.2363, 1.68, 0.268, 1.17],
  [0.0401, -3.41, 0.0253, -2.27], [0.0928, -6.47, 0.0886, -5.42], [0.2257, -1.5, 0.2019, -1.12],
];
const B_RED_ARROW: [number, number, number, number] = [0.2546, -1.12, 0.2764, -1.98];
const C_LABELS: [string, number, number, number][] = [
  ['0.11', 0.059, 10.16, 0], ['0.14', 0.156, 12.83, 0], ['0.23', 0.227, 3.68, 0], ['0.5', 0.503, 1.9, 0], ['0.18', 0.1705, -3.3, 0], ['0.04', 0.0337, -5.08, 1], ['0.06', 0.0463, -28.4, 0], ['0.09', 0.1263, -36.8, 0],
];
const C_ARROWS: [number, number, number, number][] = [
  [0.089, 2.88, 0.103, 4.57], [0.15, 5.84, 0.166, 4.15], [0.219, 2.67, 0.2575, 1.61],
  [0.0505, -8.98, 0.047, -7.07], [0.124, -9.18, 0.1137, -6.86], [0.198, -2.83, 0.173, -1.78],
];
const D_LABELS: [string, number, number, number][] = [
  ['0.12', 0.0863, 7.64, 0], ['0.15', 0.1705, 7.55, 0], ['0.23', 0.2484, 3.0, 0], ['0.5', 0.5053, 1.72, 0], ['0.17', 0.16, -3.18, 0], ['0.06', 0.0526, -20.77, 0], ['0.1', 0.1242, -58.3, 0],
];
const D_ARROWS: [number, number, number, number][] = [
  [0.1263, 7.1, 0.1368, 5.67], [0.1579, 6.67, 0.1964, 4.38], [0.228, 2.52, 0.2912, 1.23],
  [0.0457, -8.78, 0.04, -6.35], [0.1227, -9.07, 0.1122, -6.5], [0.1895, -2.64, 0.1543, -1.2],
];
const INSET_ARROW: [number, number, number, number] = [0.2443, -0.397, 0.2634, -0.846];

// ---------------- layout ----------------
interface PanelSpec {
  key: string;
  series: Pt[][];
  canvas: { left: number; top: number; w: number; h: number };
  area: { left: number; top: number; right: number; bottom: number };
  yMin: number; yMax: number; brk: Brk;
  yTicks: number[]; yMinor: number[]; xMinor: number[];
  labels: [string, number, number, number][];
  arrows: [number, number, number, number][];
  redArrow?: [number, number, number, number];
  yTitleX: number; xTitleY: number; xPad: number;
}

const PANELS: PanelSpec[] = [
  {
    key: 'a', series: [A_FORMATION, A_1ST, A_2ND, A_3RD, A_100TH, A_200TH],
    canvas: { left: 0, top: 0, w: 640, h: 500 }, area: { left: 113, top: 14, right: 617, bottom: 422 },
    yMin: -15, yMax: 12, brk: null, yTicks: A_Y_TICKS, yMinor: [], xMinor: [],
    labels: A_LABELS, arrows: A_ARROWS, yTitleX: 54, xTitleY: 478, xPad: 7,
  },
  {
    key: 'b', series: [B_FORMATION, B_1ST, B_2ND, B_3RD, B_100TH, B_200TH],
    canvas: { left: 640, top: 0, w: 640, h: 500 }, area: { left: 117, top: 22, right: 610, bottom: 421 },
    yMin: -17.5, yMax: 13, brk: { B: -11.5, k: 0.703 }, yTicks: B_Y_TICKS, yMinor: B_Y_MINOR, xMinor: X_MINOR,
    labels: B_LABELS, arrows: B_ARROWS, redArrow: B_RED_ARROW, yTitleX: 60, xTitleY: 475, xPad: 6,
  },
  {
    key: 'c', series: [C_FORMATION, C_1ST, C_2ND, C_3RD, C_100TH, C_200TH],
    canvas: { left: 0, top: 505, w: 640, h: 497 }, area: { left: 117, top: 26, right: 611, bottom: 424 },
    yMin: -30.22, yMax: 20.3, brk: { B: -24.6, k: 0.273 }, yTicks: C_Y_TICKS, yMinor: C_Y_MINOR, xMinor: X_MINOR,
    labels: C_LABELS, arrows: C_ARROWS, yTitleX: 57, xTitleY: 483, xPad: 10,
  },
  {
    key: 'd', series: [D_FORMATION, D_1ST, D_2ND, D_3RD, D_100TH, D_200TH],
    canvas: { left: 640, top: 505, w: 640, h: 497 }, area: { left: 117, top: 26, right: 610, bottom: 424 },
    yMin: -23.86, yMax: 10.3, brk: { B: -21.4, k: 0.0317 }, yTicks: D_Y_TICKS, yMinor: D_Y_MINOR, xMinor: X_MINOR,
    labels: D_LABELS, arrows: D_ARROWS, yTitleX: 60, xTitleY: 483, xPad: 10,
  },
];

const makeTf = (brk: Brk) => (v: number) => (brk && v < brk.B ? brk.B + (v - brk.B) * brk.k : v);

function toXY(pts: Pt[], tf: (v: number) => number) {
  const out: { x: number; y: number | null }[] = [];
  let lastX = 0;
  for (const p of pts) {
    if (p === null) out.push({ x: lastX, y: null });
    else { out.push({ x: p[0], y: tf(p[1]) }); lastX = p[0]; }
  }
  return out;
}

function drawArrow(ctx: CanvasRenderingContext2D, x1: number, y1: number, x2: number, y2: number, color: string, dashed = false) {
  const ang = Math.atan2(y2 - y1, x2 - x1);
  const hl = 8, hw = 3.5;
  ctx.save();
  ctx.strokeStyle = color; ctx.fillStyle = color; ctx.lineWidth = 1.6;
  if (dashed) ctx.setLineDash([3, 2]);
  ctx.beginPath(); ctx.moveTo(x1, y1);
  ctx.lineTo(x2 - hl * 0.7 * Math.cos(ang), y2 - hl * 0.7 * Math.sin(ang)); ctx.stroke();
  ctx.setLineDash([]);
  ctx.beginPath(); ctx.moveTo(x2, y2);
  ctx.lineTo(x2 - hl * Math.cos(ang) + hw * Math.sin(ang), y2 - hl * Math.sin(ang) - hw * Math.cos(ang));
  ctx.lineTo(x2 - hl * Math.cos(ang) - hw * Math.sin(ang), y2 - hl * Math.sin(ang) + hw * Math.cos(ang));
  ctx.closePath(); ctx.fill();
  ctx.restore();
}

function drawYTitle(ctx: CanvasRenderingContext2D, cx: number, cy: number) {
  const fs = 26, ss = 16;
  const segs: [string, boolean][] = [['Differential capacity (Ah g', false], ['-1', true], [' V', false], ['-1', true], [')', false]];
  const widths = segs.map(([t, sup]) => { ctx.font = `${sup ? ss : fs}px ${SERIF}`; return ctx.measureText(t).width; });
  const total = widths.reduce((a, b) => a + b, 0);
  ctx.save();
  ctx.translate(cx, cy); ctx.rotate(-Math.PI / 2);
  ctx.fillStyle = TEXT; ctx.textAlign = 'left'; ctx.textBaseline = 'alphabetic';
  let x = -total / 2;
  segs.forEach(([t, sup], i) => {
    ctx.font = `${sup ? ss : fs}px ${SERIF}`;
    ctx.fillText(t, x, sup ? fs * 0.33 - fs * 0.4 : fs * 0.33);
    x += widths[i];
  });
  ctx.restore();
}

function frameAndTicks(ctx: CanvasRenderingContext2D, area: any, px: (v: number) => number, py: (v: number) => number,
  xT: number[], xM: number[], yT: number[], yM: number[], brkY: number | null, color: string) {
  const { left, right, top, bottom } = area;
  const line = (x1: number, y1: number, x2: number, y2: number) => { ctx.beginPath(); ctx.moveTo(x1, y1); ctx.lineTo(x2, y2); ctx.stroke(); };
  if (brkY !== null) { ctx.fillStyle = '#fff'; ctx.fillRect(left, brkY - 3.5, right - left, 7); }
  ctx.strokeStyle = color; ctx.lineWidth = 1.2;
  line(left, top, right, top); line(left, bottom, right, bottom);
  for (const x of [left, right]) {
    if (brkY === null) line(x, top, x, bottom);
    else {
      line(x, top, x, brkY - 3.5); line(x, brkY + 3.5, x, bottom);
      line(x - 6, brkY - 0.5, x + 6, brkY - 6.5);
      line(x - 6, brkY + 6.5, x + 6, brkY + 0.5);
    }
  }
  const MJ = 7, MN = 4;
  for (const v of xT) { const x = px(v); line(x, bottom, x, bottom - MJ); line(x, top, x, top + MJ); }
  for (const v of xM) { const x = px(v); line(x, bottom, x, bottom - MN); line(x, top, x, top + MN); }
  for (const v of yT) { const y = py(v); line(left, y, left + MJ, y); line(right, y, right - MJ, y); }
  for (const v of yM) { const y = py(v); line(left, y, left + MN, y); line(right, y, right - MN, y); }
}

function decorPlugin(p: PanelSpec, tf: (v: number) => number) {
  return {
    id: 'decor' + p.key,
    afterDatasetsDraw(chart: any) {
      const ctx: CanvasRenderingContext2D = chart.ctx;
      const area = chart.chartArea;
      const sx = chart.scales.x, sy = chart.scales.y;
      const px = (v: number) => sx.getPixelForValue(v);
      const py = (v: number) => sy.getPixelForValue(tf(v));
      ctx.save();
      const brkY = p.brk ? py(p.brk.B) : null;
      frameAndTicks(ctx, area, px, py, X_TICKS, p.xMinor, p.yTicks, p.yMinor, brkY, AXIS);
      for (const a of p.arrows) drawArrow(ctx, px(a[0]), py(a[1]), px(a[2]), py(a[3]), ARROW);
      if (p.redArrow) { const a = p.redArrow; drawArrow(ctx, px(a[0]), py(a[1]), px(a[2]), py(a[3]), '#e3241c', true); }
      ctx.fillStyle = TEXT; ctx.font = `15px ${SERIF}`; ctx.textAlign = 'center'; ctx.textBaseline = 'middle';
      for (const [t, x, y, rot] of p.labels) {
        if (rot) { ctx.save(); ctx.translate(px(x), py(y)); ctx.rotate(-Math.PI / 2); ctx.fillText(t, 0, 0); ctx.restore(); }
        else ctx.fillText(t, px(x), py(y));
      }
      drawYTitle(ctx, p.yTitleX, (area.top + area.bottom) / 2);
      ctx.font = `26px ${SERIF}`; ctx.textAlign = 'center'; ctx.textBaseline = 'middle'; ctx.fillStyle = TEXT;
      ctx.fillText('Potential (V)', (area.left + area.right) / 2, p.xTitleY);
      ctx.restore();
    },
  };
}

const noPadX = (s: any, h: number) => { s.height = h; s.paddingLeft = 0; s.paddingRight = 0; s.paddingTop = 0; s.paddingBottom = 0; };
const noPadY = (s: any, w: number) => { s.width = w; s.paddingLeft = 0; s.paddingRight = 0; s.paddingTop = 0; s.paddingBottom = 0; };

function panelConfig(p: PanelSpec): any {
  const tf = makeTf(p.brk);
  const fmtX = (v: number) => String(Math.round(v * 10) / 10);
  return {
    type: 'scatter',
    data: {
      datasets: p.series.map((s, i) => ({
        label: SERIES_NAMES[i],
        data: toXY(s, tf),
        showLine: true,
        borderColor: SERIES_COLORS[i],
        backgroundColor: SERIES_COLORS[i],
        borderWidth: 1.3,
        pointRadius: 0,
        pointHoverRadius: 0,
        tension: 0,
        spanGaps: false,
        order: SERIES_ORDER[i],
      })),
    },
    options: {
      responsive: false, animation: false, devicePixelRatio: 1, events: [],
      layout: { padding: { left: 0, top: p.area.top, right: p.canvas.w - p.area.right, bottom: 0 } },
      plugins: { legend: { display: false }, tooltip: { enabled: false }, title: { display: false } },
      scales: {
        x: {
          type: 'linear', min: X_MIN, max: X_MAX,
          grid: { display: false, drawTicks: false }, border: { display: false },
          afterFit: (s: any) => noPadX(s, p.canvas.h - p.area.bottom),
          afterBuildTicks: (s: any) => { s.ticks = X_TICKS.map((v) => ({ value: v })); },
          ticks: { autoSkip: false, maxRotation: 0, padding: p.xPad, color: TEXT, font: { family: SERIF, size: 18 }, callback: (v: number) => fmtX(v) },
        },
        y: {
          type: 'linear', min: p.yMin, max: p.yMax,
          grid: { display: false, drawTicks: false }, border: { display: false },
          afterFit: (s: any) => noPadY(s, p.area.left),
          afterBuildTicks: (s: any) => { s.ticks = p.yTicks.map((v) => ({ value: tf(v) })); },
          ticks: { autoSkip: false, padding: 10, color: TEXT, font: { family: SERIF, size: 18 }, callback: (_v: number, i: number) => String(p.yTicks[i]) },
        },
      },
    },
    plugins: [decorPlugin(p, tf)],
  };
}

// inset of panel b (same data, zoomed)
const INSET = { canvas: { left: 835, top: 200, w: 240, h: 190 }, area: { left: 62, top: 20, right: 219, bottom: 156 } };

function insetConfig(): any {
  const series = [B_FORMATION, B_1ST, B_2ND, B_3RD];
  const id = (v: number) => v;
  return {
    type: 'scatter',
    data: {
      datasets: series.map((s, i) => ({
        label: SERIES_NAMES[i], data: toXY(s, id), showLine: true,
        borderColor: SERIES_COLORS[i], backgroundColor: SERIES_COLORS[i], borderWidth: 1.4,
        pointRadius: 0, tension: 0, spanGaps: false, order: [3, 2, 1, 0][i],
      })),
    },
    options: {
      responsive: false, animation: false, devicePixelRatio: 1, events: [],
      layout: { padding: { left: 0, top: INSET.area.top, right: INSET.canvas.w - INSET.area.right, bottom: 0 } },
      plugins: { legend: { display: false }, tooltip: { enabled: false } },
      scales: {
        x: {
          type: 'linear', min: 0.2, max: 0.32, grid: { display: false, drawTicks: false }, border: { display: false },
          afterFit: (s: any) => noPadX(s, INSET.canvas.h - INSET.area.bottom),
          afterBuildTicks: (s: any) => { s.ticks = INSET_X_TICKS.map((v) => ({ value: v })); },
          ticks: { autoSkip: false, maxRotation: 0, padding: 3, color: TEXT, font: { family: SERIF, size: 15 }, callback: (v: number) => String(Math.round(v * 100) / 100) },
        },
        y: {
          type: 'linear', min: -1.087, max: 0.096, grid: { display: false, drawTicks: false }, border: { display: false },
          afterFit: (s: any) => noPadY(s, INSET.area.left),
          afterBuildTicks: (s: any) => { s.ticks = INSET_Y_TICKS.map((v) => ({ value: v })); },
          ticks: { autoSkip: false, padding: 5, color: TEXT, font: { family: SERIF, size: 15 }, callback: (v: number) => String(v) },
        },
      },
    },
    plugins: [{
      id: 'insetDecor',
      beforeDatasetsDraw(chart: any) {
        const { left, top, right, bottom } = chart.chartArea;
        chart.ctx.save(); chart.ctx.fillStyle = '#fff'; chart.ctx.fillRect(left, top, right - left, bottom - top); chart.ctx.restore();
      },
      afterDatasetsDraw(chart: any) {
        const ctx: CanvasRenderingContext2D = chart.ctx;
        const px = (v: number) => chart.scales.x.getPixelForValue(v);
        const py = (v: number) => chart.scales.y.getPixelForValue(v);
        ctx.save();
        frameAndTicks(ctx, chart.chartArea, px, py, INSET_X_TICKS, INSET_X_MINOR, INSET_Y_TICKS, INSET_Y_MINOR, null, '#3a3a3a');
        const a = INSET_ARROW;
        drawArrow(ctx, px(a[0]), py(a[1]), px(a[2]), py(a[3]), ARROW);
        ctx.restore();
      },
    }],
  };
}

function ChartCanvas({ config, box }: { config: () => any; box: { left: number; top: number; w: number; h: number } }) {
  const ref = useRef<HTMLCanvasElement>(null);
  useEffect(() => {
    const chart = new Chart(ref.current as HTMLCanvasElement, config());
    return () => chart.destroy();
  }, []);
  return <canvas ref={ref} width={box.w} height={box.h} style={{ position: 'absolute', left: box.left, top: box.top, width: box.w, height: box.h }} />;
}

function Txt({ x, baseline, size, align = 'left', children }: { x: number; baseline: number; size: number; align?: string; children: any }) {
  const tr = align === 'right' ? 'translateX(-100%)' : align === 'center' ? 'translateX(-50%)' : undefined;
  return (
    <div style={{ position: 'absolute', left: x, top: baseline - 0.8375 * size, fontSize: size, lineHeight: `${size}px`, fontFamily: SERIF, whiteSpace: 'nowrap', color: TEXT, transform: tr }}>
      {children}
    </div>
  );
}

function Legend({ x, y, step }: { x: number; y: number; step: number }) {
  return (
    <>
      {SERIES_NAMES.map((n, i) => (
        <React.Fragment key={n}>
          <div style={{ position: 'absolute', left: x, top: y + i * step - 0.75, width: 43, height: 1.5, background: SERIES_COLORS[i] }} />
          <Txt x={x + 48} baseline={y + i * step + 6} size={19}>{n}</Txt>
        </React.Fragment>
      ))}
    </>
  );
}

export default function App() {
  return (
    <div style={{ position: 'fixed', left: 0, top: 0, width: 1248, height: 1002, overflow: 'hidden', background: '#fff' }}>
      {PANELS.map((p) => <ChartCanvas key={p.key} config={() => panelConfig(p)} box={p.canvas} />)}
      <ChartCanvas config={insetConfig} box={INSET.canvas} />
      <Txt x={12} baseline={40} size={40}>a</Txt>
      <Txt x={654} baseline={40} size={40}>b</Txt>
      <Txt x={12} baseline={550} size={40}>c</Txt>
      <Txt x={653} baseline={550} size={40}>d</Txt>
      <Txt x={584} baseline={67} size={26} align="right">MCMB</Txt>
      <Txt x={1221} baseline={66} size={26} align="right">17% c-Si / MCMB</Txt>
      <Txt x={582} baseline={577} size={26} align="right">17% SiNQ-a / MCMB</Txt>
      <Txt x={1222} baseline={574} size={26} align="right">17% SiNQ-g / MCMB</Txt>
      <Legend x={247} y={250} step={23.6} />
      <Legend x={1105} y={231} step={23} />
      <Legend x={237} y={775} step={23} />
      <Legend x={858} y={753} step={23} />
    </div>
  );
}
